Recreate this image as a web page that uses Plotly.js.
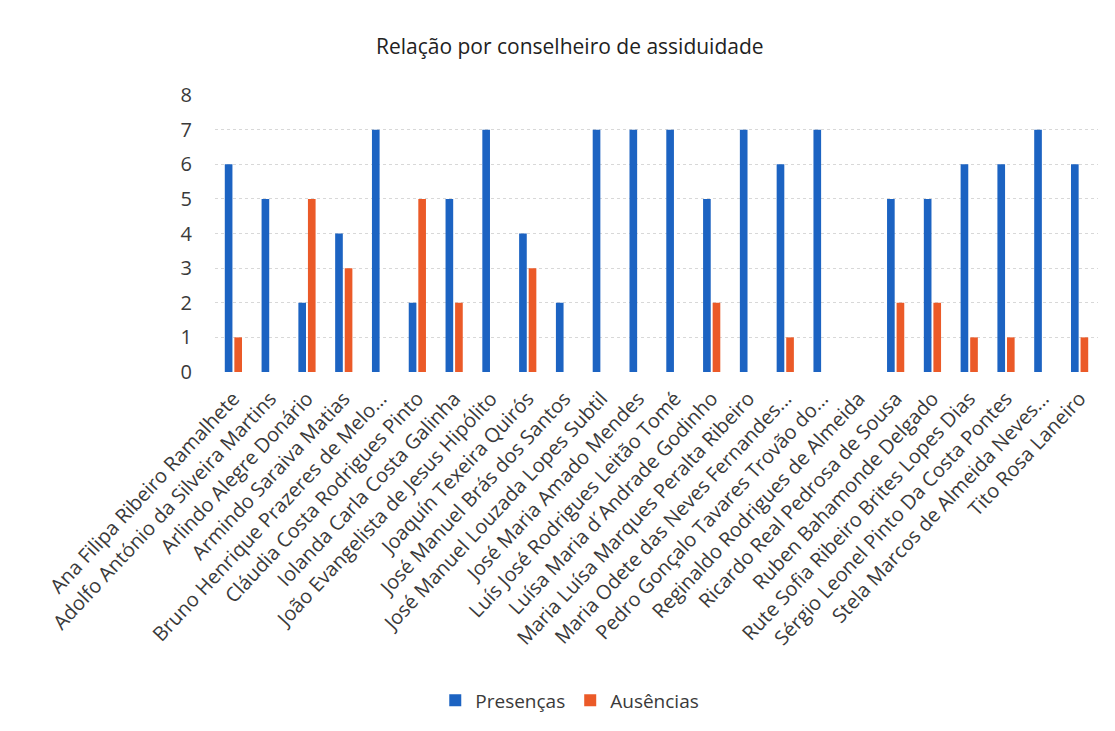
<!DOCTYPE html>
<html>
<head>
<meta charset="utf-8">
<script src="https://cdn.plot.ly/plotly-3.0.1.min.js"></script>
<style>html,body{margin:0;padding:0;background:#fff;}#chart{width:1115px;height:731px;}</style>
</head>
<body>
<div id="chart"></div>
<script>
const conselheiros = [
  "Ana Filipa Ribeiro Ramalhete",
  "Adolfo António da Silveira Martins",
  "Arlindo Alegre Donário",
  "Armindo Saraiva Matias",
  "Bruno Henrique Prazeres de Melo...",
  "Cláudia Costa Rodrigues Pinto",
  "Iolanda Carla Costa Galinha",
  "João Evangelista de Jesus Hipólito",
  "Joaquín Texeira Quirós",
  "José Manuel Brás dos Santos",
  "José Manuel Louzada Lopes Subtil",
  "José Maria Amado Mendes",
  "Luís José Rodrigues Leitão Tomé",
  "Luísa Maria d´Andrade Godinho",
  "Maria Luísa Marques Peralta Ribeiro",
  "Maria Odete das Neves Fernandes...",
  "Pedro Gonçalo Tavares Trovão do...",
  "Reginaldo Rodrigues de Almeida",
  "Ricardo Real Pedrosa de Sousa",
  "Ruben Bahamonde Delgado",
  "Rute Sofia Ribeiro Brites Lopes Dias",
  "Sérgio Leonel Pinto Da Costa Pontes",
  "Stela Marcos de Almeida Neves...",
  "Tito Rosa Laneiro"
];
const presencas = [6,5,2,4,7,2,5,7,4,2,7,7,7,5,7,6,7,0,5,5,6,6,7,6];
const ausencias = [1,0,5,3,0,5,2,0,3,0,0,0,0,2,0,1,0,0,2,2,1,1,0,1];
const yTicks = [0,1,2,3,4,5,6,7,8];

const font = "'Open Sans', 'Noto Sans', sans-serif";

const traces = [
  {type:'bar', name:'Presenças', x:conselheiros, y:presencas, marker:{color:'#1c63c2'}},
  {type:'bar', name:'Ausências', x:conselheiros, y:ausencias, marker:{color:'#eb5a28'}}
];

const layout = {
  width:1115, height:731,
  paper_bgcolor:'#ffffff', plot_bgcolor:'#ffffff',
  margin:{l:215, r:17, t:95, b:359},
  barmode:'group', bargap:0.48, bargroupgap:0.2,
  showlegend:true,
  title:{text:'Relação por conselheiro de assiduidade', font:{family:font, size:21, color:'#222222'},
         x:0.511, xref:'container', xanchor:'center', y:0.936, yref:'container', yanchor:'middle'},
  xaxis:{type:'category', tickangle:-47, automargin:false, showgrid:false, zeroline:false,
         showline:false, ticks:'', ticklabelstandoff:10, tickfont:{family:font, size:20, color:'#3a3a3a'}},
  yaxis:{range:[0,8], tickvals:yTicks, ticktext:yTicks.map(String), automargin:false,
         showgrid:true, gridcolor:'#d8d8d8', griddash:'dot', gridwidth:1, zeroline:false,
         showline:false, ticks:'', ticklabelstandoff:22,
         tickfont:{family:font, size:20, color:'#3a3a3a'}},
  legend:{orientation:'h', x:0.511, xref:'container', xanchor:'center', y:0.042, yref:'container', yanchor:'middle',
          font:{family:font, size:19, color:'#3a3a3a'}, itemwidth:30, traceorder:'normal'}
};

Plotly.newPlot('chart', traces, layout, {staticPlot:true, displayModeBar:false});
</script>
</body>
</html>
